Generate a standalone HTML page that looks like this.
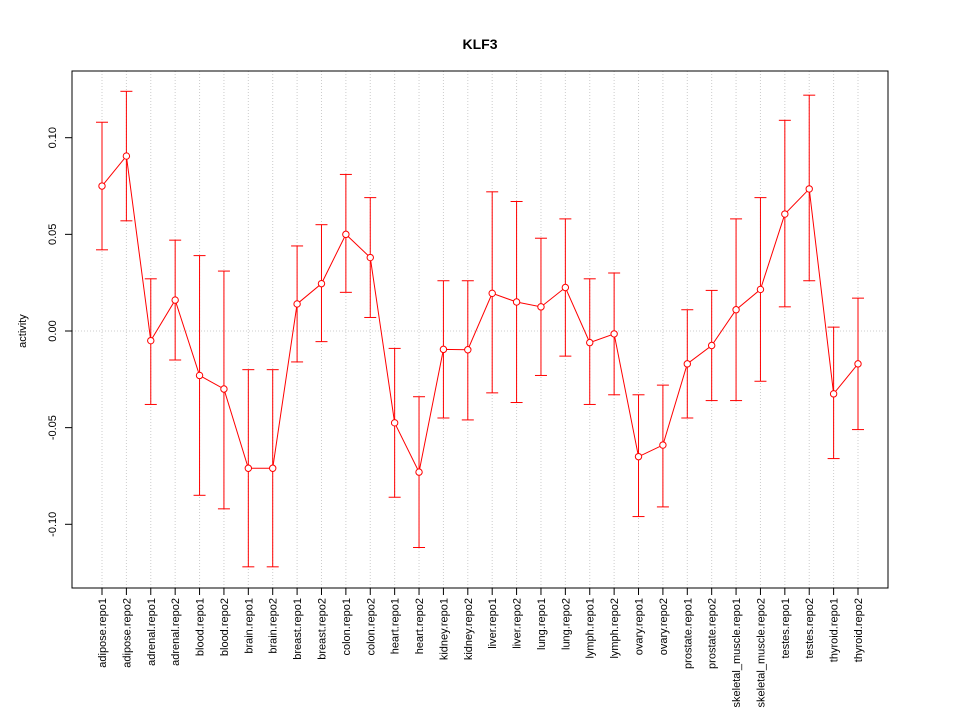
<!DOCTYPE html>
<html><head><meta charset="utf-8"><style>
body{margin:0;background:#fff}
text{font-family:"Liberation Sans",sans-serif}
</style></head><body>
<svg id="chart" width="960" height="720" xmlns="http://www.w3.org/2000/svg">
<rect width="960" height="720" fill="#fff"/>
<text x="480" y="49" text-anchor="middle" font-size="14" font-weight="bold">KLF3</text>
<text transform="translate(26,331) rotate(-90)" text-anchor="middle" font-size="11">activity</text>
<g id="grid"></g><g id="axes"></g><g id="marks"></g>
<rect x="72" y="71" width="816" height="517" fill="none" stroke="#000"/>
</svg>
<script>
const categories=["adipose.repo1","adipose.repo2","adrenal.repo1","adrenal.repo2","blood.repo1","blood.repo2","brain.repo1","brain.repo2","breast.repo1","breast.repo2","colon.repo1","colon.repo2","heart.repo1","heart.repo2","kidney.repo1","kidney.repo2","liver.repo1","liver.repo2","lung.repo1","lung.repo2","lymph.repo1","lymph.repo2","ovary.repo1","ovary.repo2","prostate.repo1","prostate.repo2","skeletal_muscle.repo1","skeletal_muscle.repo2","testes.repo1","testes.repo2","thyroid.repo1","thyroid.repo2"];
const values=[0.075,0.0905,-0.005,0.016,-0.023,-0.030,-0.071,-0.071,0.014,0.0245,0.050,0.038,-0.0475,-0.073,-0.0095,-0.0097,0.0195,0.015,0.0125,0.0225,-0.006,-0.0015,-0.065,-0.059,-0.017,-0.0075,0.011,0.0215,0.0605,0.0735,-0.0325,-0.017];
const upper=[0.108,0.124,0.027,0.047,0.039,0.031,-0.020,-0.020,0.044,0.055,0.081,0.069,-0.009,-0.034,0.026,0.026,0.072,0.067,0.048,0.058,0.027,0.030,-0.033,-0.028,0.011,0.021,0.058,0.069,0.109,0.122,0.002,0.017];
const lower=[0.042,0.057,-0.038,-0.015,-0.085,-0.092,-0.122,-0.122,-0.016,-0.0055,0.020,0.007,-0.086,-0.112,-0.045,-0.046,-0.032,-0.037,-0.023,-0.013,-0.038,-0.033,-0.096,-0.091,-0.045,-0.036,-0.036,-0.026,0.0125,0.026,-0.066,-0.051];
const yTicks=[-0.10,-0.05,0.00,0.05,0.10];
const yTickLabels=["-0.10","-0.05","0.00","0.05","0.10"];
const NS="http://www.w3.org/2000/svg";
const X=i=>102+i*(756/(categories.length-1));
const Y=v=>331-v*1933;
function mk(tag,attrs,parent){const e=document.createElementNS(NS,tag);for(const k in attrs)e.setAttribute(k,attrs[k]);parent.appendChild(e);return e;}
const grid=document.getElementById('grid'),axes=document.getElementById('axes'),marks=document.getElementById('marks');
categories.forEach((c,i)=>{
 const g=mk('line',{x1:X(i),x2:X(i),y1:71,y2:588,stroke:'#ccc','stroke-dasharray':'1,2'},grid);
 
 
 const t=mk('line',{x1:X(i),x2:X(i),y1:588,y2:595,stroke:'#000'},axes);
 
 
 const l=mk('text',{transform:`translate(${X(i)+4},598) rotate(-90)`,'text-anchor':'end','font-size':'11'},axes);
 l.textContent=c;
 
 
});
const h=mk('line',{x1:72,x2:888,y1:Y(0),y2:Y(0),stroke:'#ccc','stroke-dasharray':'1,2'},grid);


const ya=mk('line',{x1:72,x2:72,y1:Y(yTicks[0]),y2:Y(yTicks[yTicks.length-1]),stroke:'#000'},axes);


yTicks.forEach((v,i)=>{
 const t=mk('line',{x1:65,x2:72,y1:Y(v),y2:Y(v),stroke:'#000'},axes);
 
 
 const l=mk('text',{transform:`translate(56,${Y(v)}) rotate(-90)`,'text-anchor':'middle','font-size':'11'},axes);
 l.textContent=yTickLabels[i];
 
 
});
const pts=values.map((v,i)=>X(i)+','+Y(v)).join(' ');
const line=mk('polyline',{points:pts,fill:'none',stroke:'#f00'},marks);


values.forEach((v,i)=>{
 const x=X(i);
 const e=mk('line',{x1:x,x2:x,y1:Y(upper[i]),y2:Y(lower[i]),stroke:'#f00'},marks);
 
 
 const c1=mk('line',{x1:x-6,x2:x+6,y1:Y(upper[i]),y2:Y(upper[i]),stroke:'#f00'},marks);
 
 
 const c2=mk('line',{x1:x-6,x2:x+6,y1:Y(lower[i]),y2:Y(lower[i]),stroke:'#f00'},marks);
 
 
 const p=mk('circle',{cx:x,cy:Y(v),r:3.2,fill:'#fff',stroke:'#f00'},marks);
 
 
});
</script>
</body></html>
